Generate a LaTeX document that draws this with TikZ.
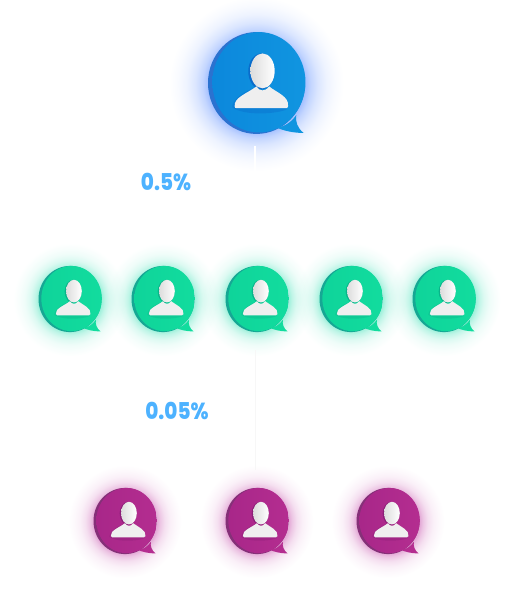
\documentclass[tikz,border=0pt]{standalone}
\usepackage{fontspec}
\setmainfont{Poppins}[BoldFont={* ExtraBold}]
\definecolor{labelblue}{HTML}{4DB2FF}
\definecolor{blueMain}{HTML}{0C88DC}\definecolor{blueLight}{HTML}{1095E0}\definecolor{blueSide}{HTML}{2B72D0}\definecolor{blueShade}{HTML}{0A6CCB}\definecolor{blueGlow}{HTML}{2A6BFF}
\definecolor{greenMain}{HTML}{0FD49A}\definecolor{greenLight}{HTML}{12DC9E}\definecolor{greenSide}{HTML}{16A794}\definecolor{greenShade}{HTML}{0AB48A}\definecolor{greenGlow}{HTML}{18DBA8}
\definecolor{purpleMain}{HTML}{A82789}\definecolor{purpleLight}{HTML}{B42D90}\definecolor{purpleSide}{HTML}{853078}\definecolor{purpleShade}{HTML}{8C1F78}\definecolor{purpleGlow}{HTML}{BC2E9C}
\definecolor{personWhite}{HTML}{EFEFEF}
\definecolor{personGrey}{HTML}{DDDDDD}
% glow: the circle's rim is 25bp, bubble edge falls at 25/1.8 = 13.9bp
\pgfdeclareradialshading{glowblue}{\pgfpointorigin}{color(0bp)=(blueGlow!50!white); color(13.9bp)=(blueGlow!42!white); color(15.5bp)=(blueGlow!28!white); color(17.5bp)=(blueGlow!17!white); color(20bp)=(blueGlow!8!white); color(22.5bp)=(blueGlow!3!white); color(25bp)=(white); color(50bp)=(white)}
\pgfdeclareradialshading{glowgreen}{\pgfpointorigin}{color(0bp)=(greenGlow!50!white); color(13.9bp)=(greenGlow!42!white); color(15.5bp)=(greenGlow!27!white); color(17.5bp)=(greenGlow!15!white); color(20bp)=(greenGlow!7!white); color(22.5bp)=(greenGlow!3!white); color(25bp)=(white); color(50bp)=(white)}
\pgfdeclareradialshading{glowpurple}{\pgfpointorigin}{color(0bp)=(purpleGlow!50!white); color(13.9bp)=(purpleGlow!42!white); color(15.5bp)=(purpleGlow!27!white); color(17.5bp)=(purpleGlow!15!white); color(20bp)=(purpleGlow!7!white); color(22.5bp)=(purpleGlow!3!white); color(25bp)=(white); color(50bp)=(white)}
\tikzset{
  pctlabel/.style={font=\bfseries\fontsize{14.5}{14.5}\selectfont,text=labelblue,inner sep=0pt},
  faintline/.style={line width=0.4pt,draw=black!3},
  whiteline/.style={line width=1.4pt,draw=white},
}
% \glowat{x}{y}{r}{family}
\newcommand{\glowat}[4]{%
  \begin{scope}[shift={(#1,#2)},x=#3*0.75pt,y=-#3*0.75pt,blend mode=multiply]
    \shade[shading=glow#4] (0,0.02) circle (1.8);
  \end{scope}}
% \bubbleat{name}{x}{y}{r}{family}
\newcommand{\bubbleat}[5]{%
  \coordinate (#1) at (#2,#3);
  \begin{scope}[shift={(#2,#3)},x=#4*0.75pt,y=-#4*0.75pt]
    \fill[#5Side] (0,0) ellipse (1 and 1.05);
    \shade[left color=#5Main,right color=#5Light] (0.05,-0.015) ellipse (0.96 and 1.035);
    \fill[#5Light] (0.42,0.92) .. controls (0.6,0.9) and (0.74,0.78) .. (0.82,0.66)
       .. controls (0.8,0.8) and (0.84,0.92) .. (0.97,1.03)
       .. controls (0.75,1.03) and (0.55,0.98) .. (0.42,0.92) -- cycle;
    \fill[#5Shade,opacity=.4] (-0.5,0.5) .. controls (-0.5,0.35) and (-0.3,0.2) .. (-0.05,0.1)
       -- (0.6,0.3) -- (0.62,0.55) .. controls (0.3,0.66) and (-0.3,0.66) .. (-0.5,0.5) -- cycle;
    \fill[#5Shade] (0.1,-0.24) ellipse (0.27 and 0.37);
    \shade[left color=personGrey,right color=white] (0.125,-0.25) ellipse (0.25 and 0.36);
    \fill[personWhite] (-0.45,0.48) .. controls (-0.47,0.3) and (-0.2,0.22) .. (0.0,0.07)
       .. controls (0.05,0.17) and (0.18,0.19) .. (0.26,0.07)
       .. controls (0.42,0.2) and (0.68,0.28) .. (0.65,0.48)
       .. controls (0.65,0.51) and (0.63,0.52) .. (0.6,0.52)
       -- (-0.4,0.52) .. controls (-0.44,0.52) and (-0.45,0.51) .. (-0.45,0.48) -- cycle;
  \end{scope}}
\begin{document}
\begin{tikzpicture}[x=0.75pt,y=-0.75pt]
\useasboundingbox (0,0) rectangle (512,600);
% glows
\glowat{256.5}{83}{48.5}{blue}
\foreach \cx in {70,163,257,351,444} {\glowat{\cx}{299}{31.5}{green}}
\foreach \cx in {125,257,388} {\glowat{\cx}{521}{31.5}{purple}}
% connectors
\coordinate (lineA1) at (255,146);
\coordinate (lineA2) at (255,200);
\coordinate (lineB1) at (255,350);
\coordinate (lineB2) at (255,470);
\draw[whiteline] (lineA1) -- (lineA2);
\draw[faintline] (lineB1) -- (lineB2);
% bubbles
\bubbleat{top}{256.5}{83}{48.5}{blue}
\bubbleat{g1}{70}{299}{31.5}{green}
\bubbleat{g2}{163}{299}{31.5}{green}
\bubbleat{g3}{257}{299}{31.5}{green}
\bubbleat{g4}{351}{299}{31.5}{green}
\bubbleat{g5}{444}{299}{31.5}{green}
\bubbleat{p1}{125}{521}{31.5}{purple}
\bubbleat{p2}{257}{521}{31.5}{purple}
\bubbleat{p3}{388}{521}{31.5}{purple}
% labels
\node[pctlabel] (pctA) at (166,182) {\scalebox{1.03}[1.2]{0.5\%}};
\node[pctlabel] (pctB) at (177,411) {\scalebox{1.03}[1.2]{0.05\%}};
\end{tikzpicture}
\end{document}
